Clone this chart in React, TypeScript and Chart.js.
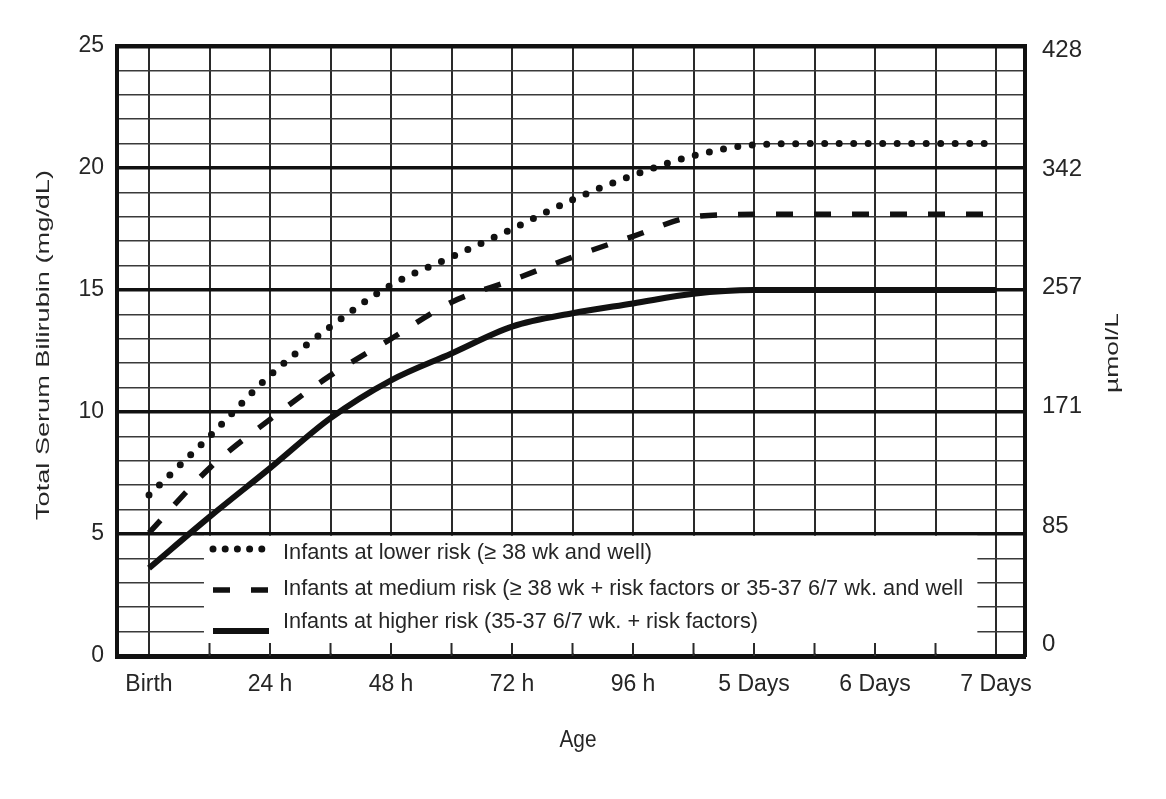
import React, { useEffect, useRef } from 'react';
import { Chart, registerables } from 'chart.js';

Chart.register(...registerables);

// ---- data (hours of age -> total serum bilirubin, mg/dL) ----
const hours = [0, 12, 24, 36, 48, 60, 72, 84, 96, 108, 120, 132, 144, 156, 168];
const lowerRisk = [6.6, 9.0, 11.5, 13.5, 15.2, 16.35, 17.5, 18.7, 19.7, 20.5, 20.95, 21, 21, 21, 21];
const mediumRisk = [5.05, 7.7, 9.7, 11.5, 13.0, 14.5, 15.4, 16.35, 17.2, 18.0, 18.1, 18.1, 18.1, 18.1, 18.1];
const higherRisk = [3.6, 5.7, 7.7, 9.75, 11.3, 12.4, 13.5, 14.05, 14.45, 14.85, 15.0, 15.0, 15.0, 15.0, 15.0];

const seriesLabels = [
  'Infants at lower risk (\u2265 38 wk and well)',
  'Infants at medium risk (\u2265 38 wk + risk factors or 35-37 6/7 wk. and well',
  'Infants at higher risk (35-37 6/7 wk. + risk factors)',
];

const xTickValues = [0, 12, 24, 36, 48, 60, 72, 84, 96, 108, 120, 132, 144, 156, 168];
const xLabelValues = [0, 24, 48, 72, 96, 120, 144, 168];
const xLabels = ['Birth', '24 h', '48 h', '72 h', '96 h', '5 Days', '6 Days', '7 Days'];
const yTickValues = [0, 1, 2, 3, 4, 5, 6, 7, 8, 9, 10, 11, 12, 13, 14, 15, 16, 17, 18, 19, 20, 21, 22, 23, 24, 25];
const yLabelValues = [0, 5, 10, 15, 20, 25];
const umolTickValues = [0, 85, 171, 257, 342, 428];

const yTitle = 'Total Serum Bilirubin (mg/dL)';
const y2Title = '\u00b5mol/L';
const xTitle = 'Age';

const SANS = "'Liberation Sans', Arial, Helvetica, sans-serif";
const TEXT = '#262626';

function fitText(ctx: CanvasRenderingContext2D, text: string, x: number, y: number, font: string,
  targetW: number, rot: number, align: CanvasTextAlign, baseline: CanvasTextBaseline) {
  ctx.save();
  ctx.font = font;
  const w = ctx.measureText(text).width;
  ctx.translate(x, y);
  ctx.rotate(rot);
  ctx.scale(targetW / w, 1);
  ctx.textAlign = align;
  ctx.textBaseline = baseline;
  ctx.fillStyle = TEXT;
  ctx.fillText(text, 0, 0);
  ctx.restore();
}

const decorPlugin = {
  id: 'decor',
  beforeDraw(chart: any) {
    const { ctx, width, height } = chart;
    ctx.save();
    ctx.fillStyle = '#fff';
    ctx.fillRect(0, 0, width, height);
    ctx.restore();
  },
  beforeDatasetsDraw(chart: any) {
    const { ctx, chartArea, scales } = chart;
    const x = scales.x;
    const y = scales.y;
    const top = y.getPixelForValue(5) + 1.8;
    const bottom = chartArea.bottom - 2.5;
    const left = x.getPixelForValue(10.9);
    const right = x.getPixelForValue(164.3);
    ctx.save();
    ctx.fillStyle = '#fff';
    ctx.fillRect(left, top, right - left, bottom - top);
    ctx.strokeStyle = '#2a2a2a';
    ctx.lineWidth = 2;
    for (const h of xTickValues) {
      const px = x.getPixelForValue(h);
      if (px > left && px < right) {
        ctx.beginPath();
        ctx.moveTo(px, chartArea.bottom);
        ctx.lineTo(px, chartArea.bottom - 13);
        ctx.stroke();
      }
    }
    ctx.restore();
  },
  afterDraw(chart: any) {
    const { ctx } = chart;
    const sampleY = [549, 590, 631];
    const textY = [559, 595, 628];
    const textW = [369, 680, 475];
    chart.data.datasets.forEach((ds: any, i: number) => {
      ctx.save();
      ctx.strokeStyle = ds.borderColor;
      ctx.lineWidth = ds.borderWidth;
      ctx.lineCap = ds.borderCapStyle || 'butt';
      const dash = ds.borderDash || [];
      ctx.setLineDash(dash.length && dash[0] === 0 ? [0, 12.2] : dash);
      ctx.beginPath();
      ctx.moveTo(213, sampleY[i]);
      ctx.lineTo(269, sampleY[i]);
      ctx.stroke();
      ctx.restore();
      fitText(ctx, ds.label, 283, textY[i], `22px ${SANS}`, textW[i], 0, 'left', 'alphabetic');
    });
    fitText(ctx, yTitle, 44, 345, `19px ${SANS}`, 350, -Math.PI / 2, 'center', 'middle');
    fitText(ctx, y2Title, 1113, 353, `19px ${SANS}`, 80, -Math.PI / 2, 'center', 'middle');
    fitText(ctx, xTitle, 578, 740, `24px ${SANS}`, 37, 0, 'center', 'middle');
  },
};

function makeDataset(label: string, values: number[], extra: any) {
  return {
    label,
    data: hours.map((h, i) => ({ x: h, y: values[i] })),
    borderColor: '#111',
    pointRadius: 0,
    fill: false,
    cubicInterpolationMode: 'monotone',
    borderJoinStyle: 'round',
    ...extra,
  };
}

export default function App() {
  const ref = useRef<HTMLCanvasElement>(null);
  useEffect(() => {
    if (!ref.current) return;
    const chart = new Chart(ref.current, {
      type: 'line',
      data: {
        datasets: [
          makeDataset(seriesLabels[0], lowerRisk, { borderWidth: 7, borderDash: [0, 14.5], borderCapStyle: 'round' }),
          makeDataset(seriesLabels[1], mediumRisk, { borderWidth: 5.5, borderDash: [17, 21], borderCapStyle: 'butt' }),
          makeDataset(seriesLabels[2], higherRisk, { borderWidth: 6, borderCapStyle: 'butt' }),
        ] as any,
      },
      options: {
        animation: false,
        responsive: false,
        maintainAspectRatio: false,
        layout: { padding: { top: 46, left: 0, right: 0, bottom: 0 } },
        plugins: {
          legend: { display: false },
          tooltip: { enabled: false },
          title: { display: false },
        },
        scales: {
          x: {
            type: 'linear',
            min: -6.35,
            max: 173.75,
            afterBuildTicks: (s: any) => { s.ticks = xTickValues.map((v) => ({ value: v })); },
            afterFit: (s: any) => { s.height = 143; },
            ticks: {
              autoSkip: false,
              maxRotation: 0,
              padding: 15,
              color: TEXT,
              font: { family: SANS, size: 23 },
              callback: (v: any) => {
                const i = xLabelValues.indexOf(Number(v));
                return i >= 0 ? xLabels[i] : '';
              },
            },
            grid: { color: '#2a2a2a', lineWidth: 2, drawTicks: false },
            border: { display: true, color: '#111', width: 5 },
          },
          y: {
            type: 'linear',
            position: 'left',
            min: 0,
            max: 25,
            afterBuildTicks: (s: any) => { s.ticks = yTickValues.map((v) => ({ value: v })); },
            afterFit: (s: any) => { s.width = 117; },
            ticks: {
              autoSkip: false,
              padding: 13,
              color: TEXT,
              font: { family: SANS, size: 23 },
              callback: (v: any) => (yLabelValues.includes(Number(v)) ? String(v) : ''),
            },
            grid: {
              drawTicks: false,
              color: (c: any) => (c.tick && c.tick.value % 5 === 0 ? '#111' : '#3a3a3a'),
              lineWidth: (c: any) => {
                const v = c.tick ? c.tick.value : 0;
                if (v === 25) return 4.5;
                return v % 5 === 0 ? 3.5 : 1.6;
              },
            },
            border: { display: true, color: '#111', width: 4 },
          },
          y2: {
            type: 'linear',
            position: 'right',
            min: -8.6,
            max: 430.8,
            afterBuildTicks: (s: any) => { s.ticks = umolTickValues.map((v) => ({ value: v })); },
            afterFit: (s: any) => { s.width = 141; },
            ticks: {
              autoSkip: false,
              padding: 17,
              color: TEXT,
              font: { family: SANS, size: 24 },
            },
            grid: { display: false, drawTicks: false },
            border: { display: true, color: '#111', width: 4 },
          },
        },
      } as any,
      plugins: [decorPlugin],
    });
    return () => chart.destroy();
  }, []);
  return (
    <div style={{ position: 'fixed', left: 0, top: 0, width: 1166, height: 799, background: '#fff' }}>
      <canvas ref={ref} width={1166} height={799} style={{ display: 'block', width: 1166, height: 799 }} />
    </div>
  );
}
